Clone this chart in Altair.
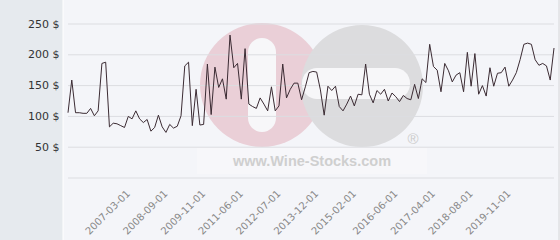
import altair as alt
import pandas as pd

# --- data ---
prices = [
    106, 159, 106, 106, 105, 105, 113, 101, 109, 186,
    188, 83, 89, 88, 85, 82, 100, 96, 109, 96,
    90, 95, 76, 82, 102, 83, 74, 87, 81, 84,
    101, 182, 188, 85, 144, 86, 87, 185, 103, 180,
    147, 161, 128, 232, 179, 186, 128, 210, 120, 116,
    113, 130, 120, 109, 148, 109, 117, 185, 130, 144,
    154, 154, 127, 148, 171, 173, 172, 143, 102, 149,
    142, 149, 116, 109, 120, 133, 117, 136, 135, 185,
    136, 122, 142, 136, 144, 125, 138, 132, 124, 134,
    129, 127, 152, 129, 161, 155, 217, 181, 175, 140,
    186, 174, 156, 167, 171, 140, 204, 149, 202, 136,
    150, 133, 179, 149, 170, 171, 180, 149, 159, 171,
    192, 217, 219, 217, 192, 183, 186, 182, 159, 211,
]
tick_idx = [15, 25, 35, 45, 55, 65, 75, 86, 96, 106, 116]
tick_labels = ["2007-03-01", "2008-09-01", "2009-11-01", "2011-06-01",
               "2012-07-01", "2013-12-01", "2015-02-01", "2016-06-01",
               "2017-04-01", "2018-08-01", "2019-11-01"]
y_ticks = [50, 100, 150, 200, 250]
grid_vals = [0, 50, 100, 150, 200, 250]

W, H = 486, 154
df = pd.DataFrame({"i": list(range(len(prices))), "price": prices})
dummy = pd.DataFrame({"k": [0]})

x_scale = alt.Scale(domain=[0, len(prices) - 1], nice=False, zero=False)
y_scale = alt.Scale(domain=[0, 250], nice=False)

label_expr = "".join(f"datum.value == {i} ? '{l}' : " for i, l in zip(tick_idx, tick_labels)) + "''"

x_axis = alt.Axis(values=tick_idx, labelExpr=label_expr, labelAngle=-45, labelAlign="right",
                  labelBaseline="top", labelPadding=10, domain=False, ticks=False, grid=False,
                  labelColor="#888888", labelFont="DejaVu Sans", labelFontSize=10, title=None,
                  labelOverlap=False, labelBound=False, zindex=1)
y_axis = alt.Axis(values=y_ticks, labelExpr="datum.value + ' $'", domain=False, ticks=False,
                  grid=False, labelPadding=9, labelFont="DejaVu Sans", labelFontSize=11,
                  labelColor="#333333", title=None, zindex=1)

# --- decoration (background panel, watermark) ---
panel = alt.Chart(dummy).mark_rect(color="#e6eaee", clip=False).encode(
    x=alt.value(-68), x2=alt.value(-5), y=alt.value(-24), y2=alt.value(216))
panel_edge = alt.Chart(dummy).mark_rule(color="#ffffff", clip=False).encode(
    x=alt.value(-5), y=alt.value(-24), y2=alt.value(216))
right_edge = alt.Chart(dummy).mark_rule(color="#d6d6d8", clip=False).encode(
    x=alt.value(491), y=alt.value(-24), y2=alt.value(216))

pink = alt.Chart(dummy).mark_circle(size=124 * 124, color="#eacfd7", opacity=1).encode(
    x=alt.value(194), y=alt.value(61))
gray = alt.Chart(dummy).mark_circle(size=122 * 122, color="#dcdcde", opacity=1).encode(
    x=alt.value(294), y=alt.value(62))
stem = alt.Chart(dummy).mark_rect(color="#f7f7f9", cornerRadius=14).encode(
    x=alt.value(180), x2=alt.value(208), y=alt.value(14), y2=alt.value(108))
bar = alt.Chart(dummy).mark_rect(color="#f7f7f9", cornerRadius=15).encode(
    x=alt.value(234), x2=alt.value(342), y=alt.value(44), y2=alt.value(75))
box = alt.Chart(dummy).mark_rect(color="#ffffff", opacity=0.25).encode(
    x=alt.value(129), x2=alt.value(359), y=alt.value(124), y2=alt.value(150))
wm_text = alt.Chart(dummy).mark_text(text="www.Wine-Stocks.com", font="Liberation Sans",
                                     fontWeight="bold", fontSize=14.5, color="#cfcfcf",
                                     align="center", baseline="alphabetic").encode(
    x=alt.value(244), y=alt.value(142))
reg = alt.Chart(dummy).mark_text(text="®", font="Liberation Sans", fontSize=15,
                                 color="#cccccc", align="center", baseline="middle").encode(
    x=alt.value(345), y=alt.value(115))

# --- data layers ---
grid = alt.Chart(pd.DataFrame({"g": grid_vals})).mark_rule(color="#dcdde1", strokeWidth=1).encode(
    y=alt.Y("g:Q", scale=y_scale, axis=y_axis))
line = alt.Chart(df).mark_line(color="#3b2b33", strokeWidth=1).encode(
    x=alt.X("i:Q", scale=x_scale, axis=x_axis),
    y=alt.Y("price:Q", scale=y_scale, axis=y_axis))

chart = alt.layer(panel, panel_edge, right_edge, pink, gray, stem, bar, box, wm_text, reg,
                  grid, line).properties(
    width=W, height=H,
    autosize=alt.AutoSizeParams(type="none"),
    padding={"left": 68, "top": 24, "right": 6, "bottom": 62},
    background="#f4f5f9",
).configure_view(stroke=None)

chart.save("out.html", embed_options={"renderer": "svg", "actions": False})
